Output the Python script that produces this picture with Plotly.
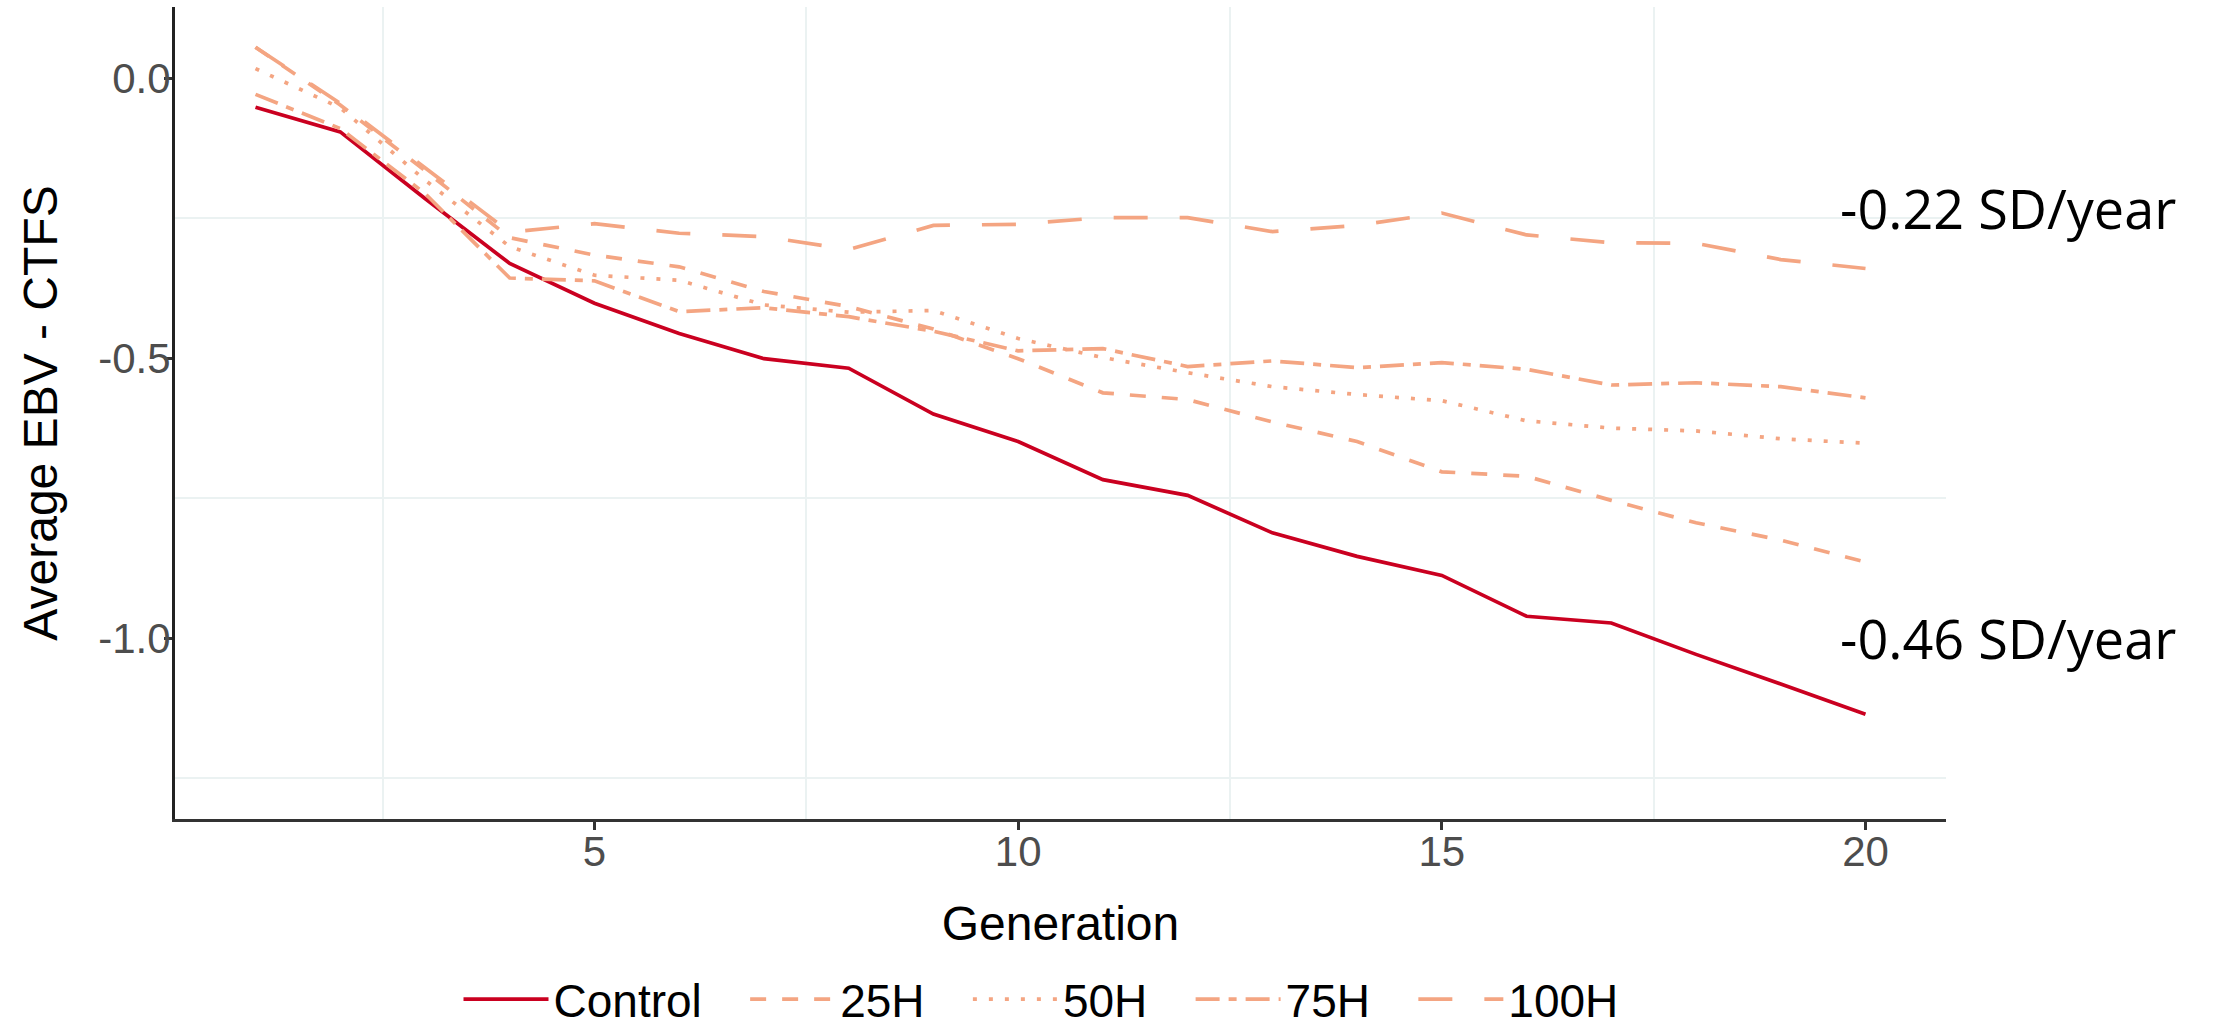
import plotly.graph_objects as go

generation = list(range(1, 21))

control = [-0.052, -0.096, -0.215, -0.331, -0.402, -0.456, -0.501, -0.518, -0.600, -0.649,
           -0.717, -0.745, -0.812, -0.854, -0.888, -0.961, -0.973, -1.029, -1.082, -1.136]
h25 = [0.055, -0.048, -0.165, -0.285, -0.316, -0.337, -0.381, -0.408, -0.448, -0.501,
       -0.562, -0.574, -0.614, -0.649, -0.703, -0.711, -0.754, -0.794, -0.825, -0.864]
h50 = [0.017, -0.053, -0.182, -0.301, -0.352, -0.361, -0.405, -0.418, -0.415, -0.465,
       -0.499, -0.526, -0.551, -0.565, -0.576, -0.612, -0.625, -0.630, -0.644, -0.652]
h75 = [-0.029, -0.090, -0.206, -0.357, -0.362, -0.417, -0.410, -0.426, -0.452, -0.487,
       -0.483, -0.515, -0.505, -0.517, -0.508, -0.520, -0.548, -0.544, -0.551, -0.571]
h100 = [0.055, -0.045, -0.160, -0.275, -0.260, -0.277, -0.283, -0.306, -0.263, -0.261,
        -0.249, -0.249, -0.274, -0.263, -0.241, -0.280, -0.294, -0.295, -0.324, -0.340]

series_names = ["Control", "25H", "50H", "75H", "100H"]
series_values = [control, h25, h50, h75, h100]
series_colors = ["#CA0020", "#F4A582", "#F4A582", "#F4A582", "#F4A582"]
series_dash = ["solid", "16px,16px", "4px,12px", "24px,9px,8px,9px", "34px,32px"]

x_tickvals = [5, 10, 15, 20]
x_ticktext = ["5", "10", "15", "20"]
y_tickvals = [0.0, -0.5, -1.0]
y_ticktext = ["0.0", "-0.5", "-1.0"]
x_minor = [2.5, 7.5, 12.5, 17.5]
y_minor = [-0.25, -0.75, -1.25]

rate_labels = ["-0.22 SD/year", "-0.46 SD/year"]
rate_x = [19.67, 19.67]
rate_y = [-0.232, -1.0]

PAD = "\u00a0\u00a0\u00a0"

fig = go.Figure()
for name, vals, col, dash in zip(series_names, series_values, series_colors, series_dash):
    fig.add_trace(go.Scatter(
        x=generation, y=vals, mode="lines", name=name + PAD,
        line=dict(color=col, width=3.7, dash=dash),
    ))

for txt, xv, yv in zip(rate_labels, rate_x, rate_y):
    fig.add_annotation(x=xv, y=yv, xref="x", yref="y", text=txt, showarrow=False,
                       xanchor="left", yanchor="middle",
                       font=dict(family="Open Sans", size=54, color="black"))

axis_font = dict(family="Liberation Sans", size=42, color="#4D4D4D")
title_font = dict(family="Liberation Sans", size=48, color="black")

fig.update_layout(
    width=2218, height=1029,
    margin=dict(l=175, r=272, t=7, b=210, autoexpand=False),
    paper_bgcolor="white", plot_bgcolor="white",
    showlegend=True,
    legend=dict(orientation="h", x=0.5, xanchor="center", y=-0.222, yanchor="middle",
                font=dict(family="Liberation Sans", size=46, color="black"),
                itemwidth=85, bgcolor="rgba(0,0,0,0)"),
    xaxis=dict(
        range=[0.05, 20.95], tickvals=x_tickvals, ticktext=x_ticktext, automargin=False,
        showgrid=False, zeroline=False, showline=True, linecolor="#333333", linewidth=3,
        ticks="outside", ticklen=8, tickwidth=2.5, tickcolor="#333333",
        tickfont=axis_font, ticklabelstandoff=-14,
        title=dict(text="Generation", font=title_font, standoff=32),
        minor=dict(tickvals=x_minor, showgrid=True, gridcolor="#EBF2F2", gridwidth=2, ticks=""),
    ),
    yaxis=dict(
        range=[-1.323, 0.127], tickvals=y_tickvals, ticktext=y_ticktext, automargin=False,
        showgrid=False, zeroline=False, showline=True, linecolor="#222222", linewidth=3,
        ticks="outside", ticklen=8, tickwidth=2.5, tickcolor="#333333",
        tickfont=axis_font, ticklabelstandoff=-15,
        title=dict(text="Average EBV - CTFS", font=title_font, standoff=26),
        minor=dict(tickvals=y_minor, showgrid=True, gridcolor="#EBF2F2", gridwidth=2, ticks=""),
    ),
)

fig.write_html("out.html")
